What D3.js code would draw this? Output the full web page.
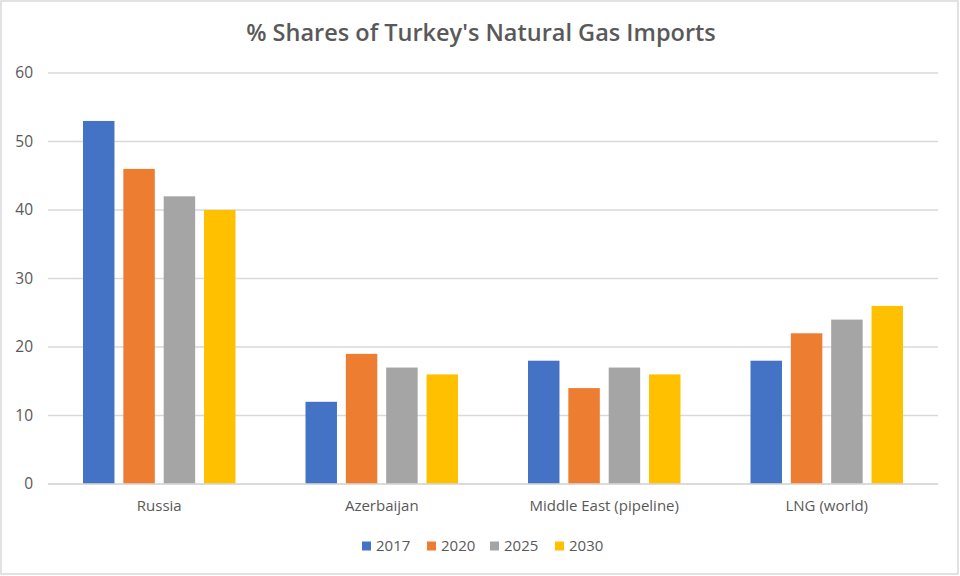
<!DOCTYPE html>
<html>
<head>
<meta charset="utf-8">
<script src="https://cdn.jsdelivr.net/npm/d3@7"></script>
<style>
  body { margin: 0; background: #fff; }
  svg { display: block; }
</style>
</head>
<body>
<svg id="chart" width="960" height="576"></svg>
<script>
// data
var categories = ['Russia', 'Azerbaijan', 'Middle East (pipeline)', 'LNG (world)'];
var years = ['2017', '2020', '2025', '2030'];
var s2017 = [53, 12, 18, 18];
var s2020 = [46, 19, 14, 22];
var s2025 = [42, 17, 17, 24];
var s2030 = [40, 16, 16, 26];
var yTicks = [0, 10, 20, 30, 40, 50, 60];
var colors = ['#4472C4', '#ED7D31', '#A5A5A5', '#FFC000'];

var series = [s2017, s2020, s2025, s2030];

var svg = d3.select('#chart');
var font = '"Open Sans", "Noto Sans", sans-serif';

// outer frame
svg.append('rect')
    .attr('x', 1).attr('y', 1)
    .attr('width', 957).attr('height', 573)
    .attr('fill', '#fff')
    .attr('stroke', '#D9D9D9')
    .attr('stroke-width', 1.5);

var plotLeft = 48, plotRight = 938, plotTop = 73, plotBottom = 484;

var x0 = d3.scaleBand().domain(categories).range([plotLeft, plotRight]);
var cw = x0.bandwidth();
var x1 = d3.scaleBand().domain(years)
    .range([35, cw - 35])
    .paddingInner(0.22);
var y = d3.scaleLinear().domain([0, 60]).range([plotBottom, plotTop]);

// gridlines
svg.append('g')
  .selectAll('line')
    .data(yTicks)
  .enter().append('line')
    .attr('x1', plotLeft).attr('x2', plotRight)
    .attr('y1', function(d) { return y(d); })
    .attr('y2', function(d) { return y(d); })
    .attr('stroke', '#D9D9D9')
    .attr('stroke-width', 1.3);

// y axis labels
var yAxis = d3.axisLeft(y).tickValues(yTicks).tickSize(0).tickPadding(0);
var ya = svg.append('g')
    .attr('transform', 'translate(33,0)')
    .call(yAxis);
ya.select('.domain').remove();
ya.selectAll('text')
    .attr('fill', '#595959')
    .style('font-family', font)
    .style('font-size', '15.5px');

// bars
svg.append('g')
  .selectAll('g')
    .data(series)
  .enter().append('g')
    .attr('fill', function(d, i) { return colors[i]; })
  .selectAll('rect')
    .data(function(d, i) {
      return d.map(function(v, j) { return {cat: categories[j], year: years[i], v: v}; });
    })
  .enter().append('rect')
    .attr('x', function(d) { return x0(d.cat) + x1(d.year); })
    .attr('y', function(d) { return y(d.v); })
    .attr('width', x1.bandwidth())
    .attr('height', function(d) { return plotBottom - y(d.v); });

// zero line above bars
svg.append('line')
    .attr('x1', plotLeft).attr('x2', plotRight)
    .attr('y1', y(0)).attr('y2', y(0))
    .attr('stroke', '#D9D9D9')
    .attr('stroke-width', 1.3);

// category labels
var xAxis = d3.axisBottom(x0).tickSize(0).tickPadding(0);
var xa = svg.append('g')
    .attr('transform', 'translate(0,' + (plotBottom + 16) + ')')
    .call(xAxis);
xa.select('.domain').remove();
xa.selectAll('text')
    .attr('dy', '0.71em')
    .attr('fill', '#595959')
    .style('font-family', font)
    .style('font-size', '15px');

// title
svg.append('text')
    .attr('x', 481).attr('y', 41)
    .attr('text-anchor', 'middle')
    .attr('fill', '#595959')
    .style('font-family', font)
    .style('font-weight', '600')
    .style('font-size', '23.5px')
    .text("% Shares of Turkey's Natural Gas Imports");

// legend
var legendX = [362, 427, 490, 555];
var lg = svg.append('g')
  .selectAll('g')
    .data(years)
  .enter().append('g')
    .attr('transform', function(d, i) { return 'translate(' + legendX[i] + ',546)'; });
lg.append('rect')
    .attr('x', 0).attr('y', -4.5)
    .attr('width', 9).attr('height', 9)
    .attr('fill', function(d, i) { return colors[i]; });
lg.append('text')
    .attr('x', 14).attr('y', 0)
    .attr('dy', '0.35em')
    .attr('fill', '#595959')
    .style('font-family', font)
    .style('font-size', '15px')
    .text(function(d) { return d; });
</script>
</body>
</html>
